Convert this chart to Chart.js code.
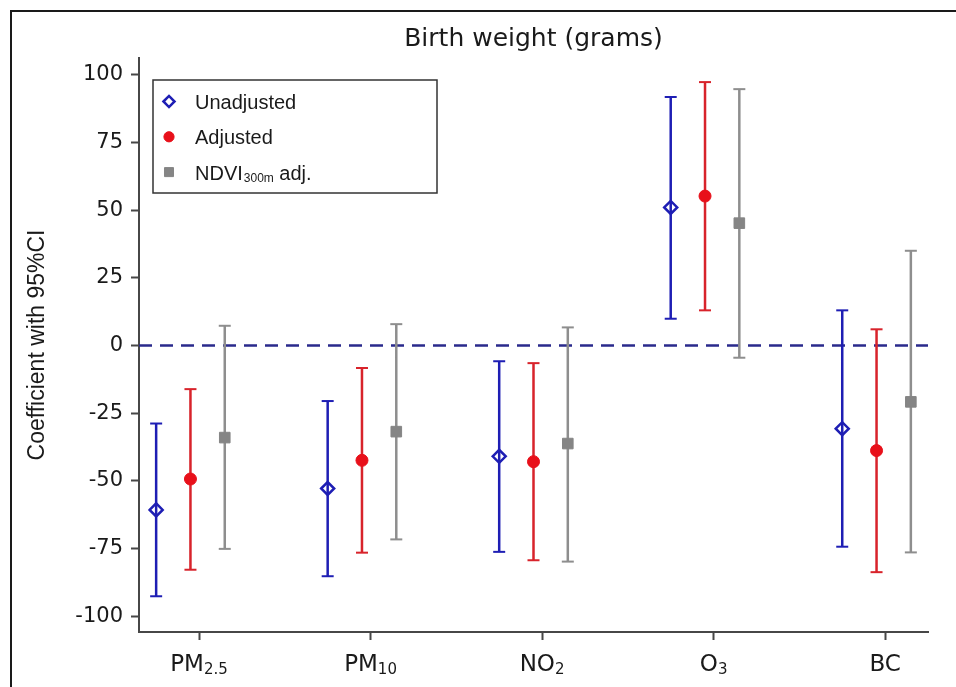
<!DOCTYPE html>
<html>
<head>
<meta charset="utf-8">
<script src="https://cdn.jsdelivr.net/npm/chart.js@4.4.1/dist/chart.umd.min.js"></script>
<style>
  body { margin: 0; background: #fff; }
  canvas { display: block; }
</style>
</head>
<body>
<canvas id="mycanvas" width="956" height="687"></canvas>
<script>
// categories (main text + subscript)
var catMain = ["PM", "PM", "NO", "O", "BC"];
var catSub = ["2.5", "10", "2", "3", ""];
var yTicks = [-100, -75, -50, -25, 0, 25, 50, 75, 100];

// estimates and 95% CI
var unadjEst = [-60.7, -52.8, -40.9, 51.0, -30.7];
var unadjLo  = [-92.6, -85.2, -76.2, 9.9, -74.3];
var unadjHi  = [-28.8, -20.5, -5.8, 91.8, 13.0];

var adjEst = [-49.3, -42.4, -42.9, 55.2, -38.8];
var adjLo  = [-82.8, -76.5, -79.3, 13.0, -83.7];
var adjHi  = [-16.1, -8.3, -6.5, 97.3, 6.0];

var ndviEst = [-34.0, -31.8, -36.2, 45.2, -20.8];
var ndviLo  = [-75.1, -71.6, -79.8, -4.5, -76.4];
var ndviHi  = [7.3, 7.9, 6.7, 94.7, 35.0];

var legendMain = ["Unadjusted", "Adjusted", "NDVI"];
var legendSub = ["", "", "300m"];
var legendTail = ["", "", " adj."];

var blue = "#1e1eb4";
var red = "#d8232b";
var redDot = "#e8101a";
var gray = "#8e8e8e";
var grayDot = "#858585";
var axisCol = "#474747";
var xMin = -0.35, xMax = 4.25;

function bars(lo, hi, off) {
  var d = [];
  for (var i = 0; i < lo.length; i++) {
    d.push({x: i + off, y: lo[i]});
    d.push({x: i + off, y: hi[i]});
    d.push({x: i + off, y: null});
  }
  return d;
}
function points(est, off) {
  var d = [];
  for (var i = 0; i < est.length; i++) d.push({x: i + off, y: est[i]});
  return d;
}
function barSet(data, col) {
  return {
    type: "line", data: data, showLine: true, spanGaps: false,
    borderColor: col, borderWidth: 2.5,
    pointStyle: "line", pointRadius: 6, pointBorderColor: col, pointBorderWidth: 2,
    order: 1
  };
}

var markers = [
  {style: "rectRot", radius: 6.5, fill: "rgba(0,0,0,0)", stroke: blue, bw: 2.5},
  {style: "circle", radius: 6, fill: redDot, stroke: redDot, bw: 1},
  {style: "rect", radius: 7.5, fill: grayDot, stroke: grayDot, bw: 1}
];

var chartdata = {
  datasets: [
    {type: "scatter", data: points(unadjEst, -0.25), pointStyle: "rectRot", pointRadius: 6.5,
     backgroundColor: "rgba(0,0,0,0)", borderColor: blue, borderWidth: 2.5, order: 0},
    {type: "scatter", data: points(adjEst, -0.05), pointStyle: "circle", pointRadius: 6,
     backgroundColor: redDot, borderColor: redDot, borderWidth: 1, order: 0},
    {type: "scatter", data: points(ndviEst, 0.15), pointStyle: "rect", pointRadius: 7.5,
     backgroundColor: grayDot, borderColor: grayDot, borderWidth: 1, order: 0},
    barSet(bars(unadjLo, unadjHi, -0.25), blue),
    barSet(bars(adjLo, adjHi, -0.05), red),
    barSet(bars(ndviLo, ndviHi, 0.15), gray),
    {type: "line", data: [{x: xMin, y: 0}, {x: xMax, y: 0}], borderColor: "#2a2a8c",
     borderWidth: 2.5, borderDash: [13, 8], pointRadius: 0, order: 2}
  ]
};

// frame, x labels with subscripts, boxed legend
var extras = {
  id: "extras",
  beforeDraw: function(chart) {
    var ctx = chart.ctx;
    ctx.save();
    ctx.fillStyle = "#fff";
    ctx.fillRect(0, 0, chart.width, chart.height);
    ctx.strokeStyle = "#1a1a1a";
    ctx.lineWidth = 2;
    ctx.strokeRect(11, 11, 1000, 1000);
    ctx.restore();
  },
  afterDraw: function(chart) {
    var ctx = chart.ctx;
    var xs = chart.scales.x;
    var area = chart.chartArea;
    ctx.save();
    ctx.fillStyle = "#1a1a1a";
    ctx.textBaseline = "alphabetic";
    ctx.textAlign = "left";
    var base = area.bottom + 39;
    for (var i = 0; i < catMain.length; i++) {
      ctx.font = "23px 'DejaVu Sans'";
      var w1 = ctx.measureText(catMain[i]).width;
      ctx.font = "15px 'DejaVu Sans'";
      var w2 = ctx.measureText(catSub[i]).width;
      var x0 = xs.getPixelForValue(i) - (w1 + w2) / 2;
      ctx.font = "23px 'DejaVu Sans'";
      ctx.fillText(catMain[i], x0, base);
      ctx.font = "15px 'DejaVu Sans'";
      ctx.fillText(catSub[i], x0 + w1, base + 3);
    }

    // legend box
    var bx = area.left + 14, by = area.top + 22, bw = 284, bh = 113;
    ctx.strokeStyle = "#333";
    ctx.lineWidth = 1.5;
    ctx.strokeRect(bx, by, bw, bh);
    for (var k = 0; k < legendMain.length; k++) {
      var cy = by + 21.5 + k * 35.3;
      var m = markers[k];
      ctx.fillStyle = m.fill;
      ctx.strokeStyle = m.stroke;
      ctx.lineWidth = m.bw;
      Chart.helpers.drawPoint(ctx, {pointStyle: m.style, radius: m.radius * 0.85, rotation: 0, borderWidth: m.bw}, bx + 16, cy);
      ctx.fillStyle = "#1a1a1a";
      ctx.font = "20px 'Liberation Sans', Arial";
      var tx = bx + 42;
      ctx.fillText(legendMain[k], tx, cy + 7.5);
      tx += ctx.measureText(legendMain[k]).width;
      if (legendSub[k]) {
        ctx.font = "12px 'Liberation Sans', Arial";
        ctx.fillText(legendSub[k], tx + 1, cy + 10);
        tx += ctx.measureText(legendSub[k]).width + 1;
        ctx.font = "20px 'Liberation Sans', Arial";
        ctx.fillText(legendTail[k], tx, cy + 7.5);
      }
    }
    ctx.restore();
  }
};

var ctx = document.getElementById("mycanvas");
var LineGraph = new Chart(ctx, {
  type: "scatter",
  data: chartdata,
  plugins: [extras],
  options: {
    responsive: false,
    animation: false,
    devicePixelRatio: 1,
    layout: {padding: {top: 0, right: 28, bottom: 0, left: 0}},
    plugins: {
      legend: {display: false},
      tooltip: {enabled: false},
      title: {
        display: true,
        fullSize: false,
        text: "Birth weight (grams)",
        color: "#1a1a1a",
        font: {family: "'DejaVu Sans'", size: 25, weight: "normal", lineHeight: 1.2},
        padding: {top: 24, bottom: 4}
      }
    },
    scales: {
      x: {
        type: "linear",
        min: xMin, max: xMax,
        afterBuildTicks: function(s) { s.ticks = catMain.map(function(c, i) { return {value: i}; }); },
        afterFit: function(s) { s.height = 55; },
        ticks: {callback: function() { return ""; }},
        grid: {drawOnChartArea: false, drawTicks: true, tickLength: 8, tickColor: axisCol, tickWidth: 2},
        border: {display: true, color: axisCol, width: 2}
      },
      y: {
        min: -105.8, max: 106.2,
        afterBuildTicks: function(s) { s.ticks = yTicks.map(function(v) { return {value: v}; }); },
        afterFit: function(s) { s.width = 139; },
        ticks: {color: "#1a1a1a", padding: 8, font: {family: "'DejaVu Sans'", size: 21}},
        grid: {drawOnChartArea: false, drawTicks: true, tickLength: 8, tickColor: axisCol, tickWidth: 2},
        border: {display: true, color: axisCol, width: 2},
        title: {
          display: true,
          text: "Coefficient with 95%CI",
          color: "#1a1a1a",
          font: {family: "'Liberation Sans', Arial", size: 23, lineHeight: 1.2},
          padding: {top: 24, bottom: 0}
        }
      }
    }
  }
});
</script>
</body>
</html>
